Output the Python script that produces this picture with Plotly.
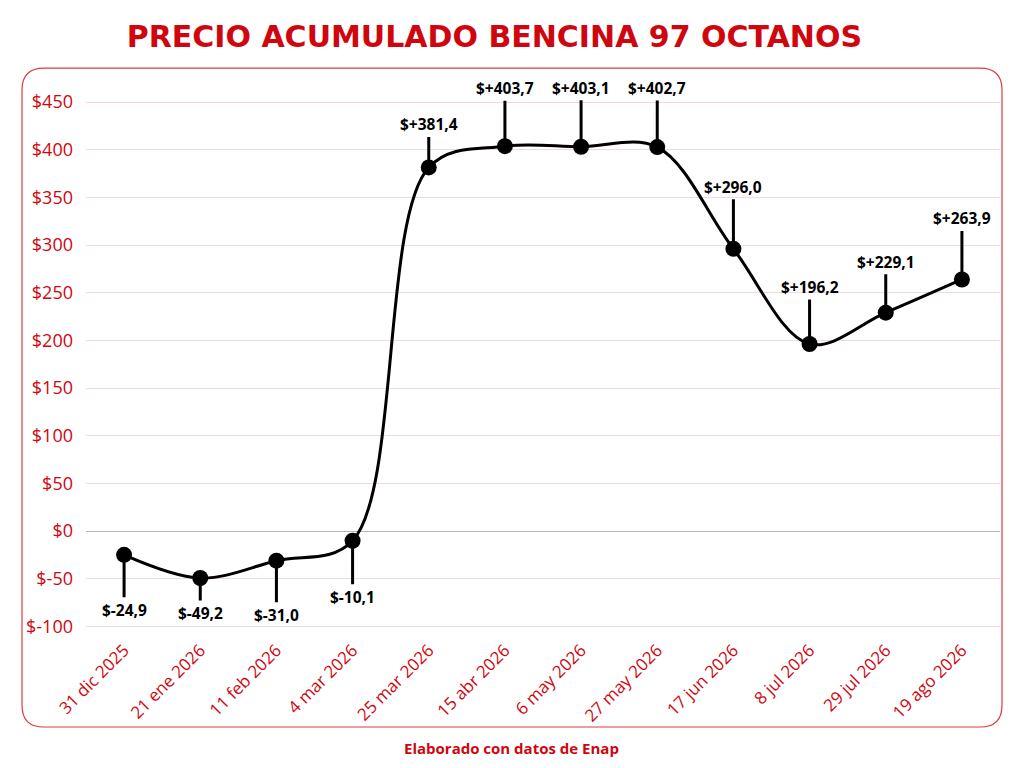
import plotly.graph_objects as go

fechas = ['31 dic 2025', '21 ene 2026', '11 feb 2026', '4 mar 2026', '25 mar 2026', '15 abr 2026',
          '6 may 2026', '27 may 2026', '17 jun 2026', '8 jul 2026', '29 jul 2026', '19 ago 2026']
acumulado = [-24.9, -49.2, -31.0, -10.1, 381.4, 403.7, 403.1, 402.7, 296.0, 196.2, 229.1, 263.9]
y_ticks = [-100, -50, 0, 50, 100, 150, 200, 250, 300, 350, 400, 450]

# stem length (px) for each label, negative = label above the point
stem_px = [55, 35, 54, 56, -43, -58, -59, -59, -62, -57, -51, -61]

RED = '#d0060f'


def fmt(v):
    s = f'{abs(v):.1f}'.replace('.', ',')
    return ('$+' if v >= 0 else '$-') + s


x = list(range(len(fechas)))

fig = go.Figure()
fig.add_trace(go.Scatter(
    x=x, y=acumulado, mode='lines+markers',
    line=dict(color='black', width=3, shape='spline', smoothing=1),
    marker=dict(color='black', size=16),
    hoverinfo='skip', showlegend=False,
))

for i, v in enumerate(acumulado):
    fig.add_annotation(
        x=x[i], y=v, text=fmt(v), showarrow=True, arrowhead=0, arrowwidth=3,
        arrowcolor='black', ax=0, ay=stem_px[i], standoff=0,
        font=dict(family='Open Sans', size=15.5, color='black', weight=700),
    )

fig.add_annotation(
    xref='paper', yref='paper', x=0.466, y=-0.205, yanchor='middle',
    text='Elaborado con datos de Enap',
    showarrow=False, font=dict(family='Open Sans', size=15, color=RED, weight=700),
)

# rounded red frame
x0, x1, y0, y1 = -0.070, 1.0022, -0.1667, 1.040
rx, ry = 0.024, 0.040
path = (f'M {x0 + rx},{y1} L {x1 - rx},{y1} Q {x1},{y1} {x1},{y1 - ry} '
        f'L {x1},{y0 + ry} Q {x1},{y0} {x1 - rx},{y0} L {x0 + rx},{y0} '
        f'Q {x0},{y0} {x0},{y0 + ry} L {x0},{y1 - ry} Q {x0},{y1} {x0 + rx},{y1} Z')
fig.add_shape(type='path', xref='paper', yref='paper', path=path,
              line=dict(color='#e03a3a', width=1.2), layer='below')

fig.update_layout(
    width=1024, height=768,
    margin=dict(l=78, r=32, t=82, b=140),
    paper_bgcolor='white', plot_bgcolor='white',
    title=dict(text='PRECIO ACUMULADO BENCINA 97 OCTANOS', x=0.475, xanchor='center',
               y=0.963, yanchor='middle',
               font=dict(family='DejaVu Sans', size=30, color=RED, weight=800)),
    xaxis=dict(range=[-0.5, 11.5], tickvals=x, ticktext=fechas, tickangle=-45,
               showgrid=False, zeroline=False, showline=False,
               tickfont=dict(family='Open Sans', size=17, color=RED)),
    yaxis=dict(range=[-110, 462.6], tickvals=y_ticks,
               ticktext=[('$' + str(t)) for t in y_ticks],
               gridcolor='#f7d8d8', gridwidth=1, zeroline=True, zerolinecolor='#b5b5b5',
               zerolinewidth=1, showline=False, ticklabelstandoff=12,
               tickfont=dict(family='Open Sans', size=18, color=RED)),
)

fig.write_html('out.html')
